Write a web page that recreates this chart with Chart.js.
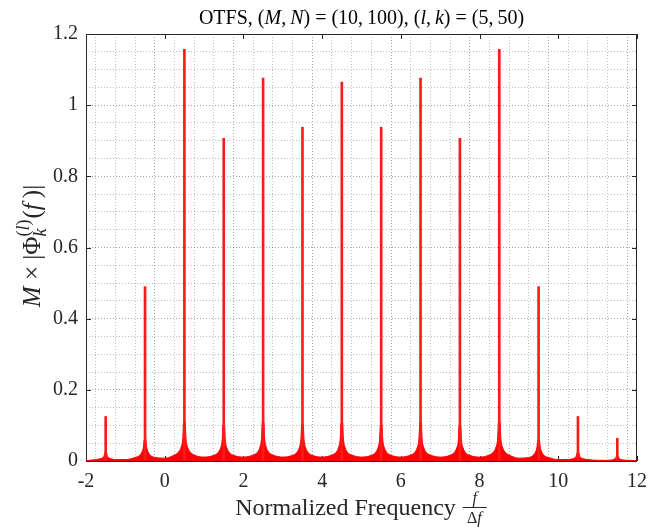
<!DOCTYPE html>
<html>
<head>
<meta charset="utf-8">
<script src="https://cdn.jsdelivr.net/npm/chart.js@4"></script>
<style>
html, body { margin: 0; padding: 0; background: #fff; }
#wrap { width: 661px; height: 527px; }
</style>
</head>
<body>
<div id="wrap"><canvas id="spectrum_chart"></canvas></div>
<script>
// peaks of the spectrum (x in units of delta f)
const peak_freq = [-1.5, -0.5, 0.5, 1.5, 2.5, 3.5, 4.5, 5.5, 6.5, 7.5, 8.5, 9.5, 10.5, 11.5];
const peak_height = [0.125, 0.49, 1.157, 0.907, 1.076, 0.938, 1.065, 0.938, 1.076, 0.907, 1.157, 0.49, 0.125, 0.064];

// skirt around each peak, read at these distances from the peak centre
const skirt_offset = [0.02, 0.04, 0.08, 0.15, 0.25];
const skirt_level = [
    [0.024, 0.015, 0.009, 0.006, 0.004],
    [0.060, 0.040, 0.025, 0.015, 0.010],
    [0.110, 0.065, 0.040, 0.025, 0.017],
    [0.100, 0.060, 0.037, 0.023, 0.016],
    [0.108, 0.064, 0.039, 0.024, 0.017],
    [0.102, 0.061, 0.038, 0.023, 0.016],
    [0.107, 0.064, 0.039, 0.024, 0.017],
    [0.102, 0.061, 0.038, 0.023, 0.016],
    [0.108, 0.064, 0.039, 0.024, 0.017],
    [0.100, 0.060, 0.037, 0.023, 0.016],
    [0.110, 0.065, 0.040, 0.025, 0.017],
    [0.060, 0.040, 0.025, 0.015, 0.010],
    [0.024, 0.015, 0.009, 0.006, 0.004],
    [0.014, 0.009, 0.005, 0.003, 0.002]
];

// level of the floor half way between peaks
const floor_freq = [-2, -1, 0, 1, 2, 3, 4, 5, 6, 7, 8, 9, 10, 11, 12];
const floor_level = [0.001, 0.004, 0.008, 0.011, 0.011, 0.011, 0.011, 0.011, 0.011, 0.011, 0.011, 0.008, 0.004, 0.002, 0.001];

const x_labels = [-2, 0, 2, 4, 6, 8, 10, 12];
const y_labels = [0, 0.2, 0.4, 0.6, 0.8, 1, 1.2];

const serif = "'Liberation Serif', 'Times New Roman', serif";

const skirt_points = floor_freq.map((f, i) => ({ x: f, y: floor_level[i] }));
peak_freq.forEach((c, i) => {
    skirt_offset.forEach((d, j) => {
        skirt_points.push({ x: c - d, y: skirt_level[i][j] });
        skirt_points.push({ x: c + d, y: skirt_level[i][j] });
    });
});
skirt_points.sort((a, b) => a.x - b.x);

const peak_points = peak_freq.map((f, i) => ({ x: f, y: peak_height[i] }));

const is_major = (v, step) => Math.abs(v / step - Math.round(v / step)) < 1e-6;
const grid_colour = (step) => (c) => (c.tick && is_major(c.tick.value, step)) ? "rgba(0,0,0,0.35)" : "rgba(0,0,0,0.25)";

// draws a list of text runs, returns the width
function run_text(ctx, parts, x, y, size, draw) {
    let w = 0;
    parts.forEach(p => {
        if (p.sup || p.sub) {
            const s = Math.round(size * 0.7);
            const ws = run_text(ctx, p.sup, x + w, y - size * 0.45, s, draw);
            const wb = run_text(ctx, p.sub, x + w, y + size * 0.25, s, draw);
            w += Math.max(ws, wb) + 1;
            return;
        }
        ctx.font = (p.f === "i" ? "italic " : "") + size + "px " + serif;
        if (draw) ctx.fillText(p.t, x + w, y);
        w += ctx.measureText(p.t).width;
    });
    return w;
}

function centred(ctx, parts, cx, y, size) {
    const w = run_text(ctx, parts, 0, 0, size, false);
    run_text(ctx, parts, cx - w / 2, y, size, true);
}

const thin = "\u2009";
const title_parts = [
    { t: "OTFS, (", f: "n" }, { t: "M", f: "i" }, { t: "," + thin, f: "n" }, { t: "N", f: "i" },
    { t: ") = (10," + thin + "100), (", f: "n" }, { t: "l", f: "i" }, { t: "," + thin, f: "n" }, { t: "k", f: "i" },
    { t: ") = (5," + thin + "50)", f: "n" }
];
const ylabel_parts = [
    { t: "M", f: "i" }, { t: " × |Φ", f: "n" },
    { sup: [{ t: "(", f: "n" }, { t: "l", f: "i" }, { t: ")", f: "n" }], sub: [{ t: "k", f: "i" }] },
    { t: "(", f: "n" }, { t: "f", f: "i" }, { t: thin + ")|", f: "n" }
];

const matlab_axes = {
    id: "matlab_axes",
    beforeDatasetsDraw(chart) {
        const ctx = chart.ctx;
        const a = chart.chartArea;
        ctx.save();
        ctx.strokeStyle = "#262626";
        ctx.lineWidth = 1;
        ctx.strokeRect(a.left + 0.5, a.top + 0.5, a.right - a.left - 1, a.bottom - a.top);
        const xs = chart.scales.x, ys = chart.scales.y;
        ctx.beginPath();
        x_labels.forEach(v => {
            const px = Math.round(xs.getPixelForValue(v)) + 0.5;
            ctx.moveTo(px, a.bottom); ctx.lineTo(px, a.bottom - 5);
            ctx.moveTo(px, a.top); ctx.lineTo(px, a.top + 5);
        });
        y_labels.forEach(v => {
            const py = Math.round(ys.getPixelForValue(v)) + 0.5;
            ctx.moveTo(a.left, py); ctx.lineTo(a.left + 5, py);
            ctx.moveTo(a.right, py); ctx.lineTo(a.right - 5, py);
        });
        ctx.stroke();
        ctx.restore();
    },
    afterDraw(chart) {
        const ctx = chart.ctx;
        const a = chart.chartArea;
        const cx = (a.left + a.right) / 2;
        ctx.save();
        ctx.fillStyle = "#000";
        ctx.textBaseline = "alphabetic";
        ctx.textAlign = "left";
        centred(ctx, title_parts, cx, 24, 20);

        // x label with the f / delta f fraction
        ctx.fillStyle = "#262626";
        ctx.font = "24px " + serif;
        const main = "Normalized Frequency ";
        const mw = ctx.measureText(main).width;
        const fw = 26;
        let x0 = cx - (mw + fw) / 2;
        ctx.fillText(main, x0, 515);
        const fx = x0 + mw + fw / 2;
        ctx.font = "italic 16px " + serif;
        ctx.textAlign = "center";
        ctx.fillText("f", fx, 503);
        ctx.font = "16px " + serif;
        const dw = ctx.measureText("Δ").width;
        ctx.textAlign = "left";
        const denw = dw + ctx.measureText("f").width;
        ctx.fillText("Δ", fx - denw / 2, 523);
        ctx.font = "italic 16px " + serif;
        ctx.fillText("f", fx - denw / 2 + dw, 523);
        ctx.fillRect(fx - fw / 2 + 1, 507, fw - 2, 1);

        // y label, rotated
        ctx.translate(40, 246);
        ctx.rotate(-Math.PI / 2);
        centred(ctx, ylabel_parts, 0, 0, 25);
        ctx.restore();
    }
};

const ctx = document.getElementById("spectrum_chart");
const chart = new Chart(ctx, {
    type: "bar",
    data: {
        datasets: [{
            type: "bar",
            label: "peaks",
            data: peak_points,
            backgroundColor: "#ff1a1a",
            barThickness: 2,
            grouped: false,
            order: 0
        }, {
            type: "line",
            label: "spectrum",
            data: skirt_points,
            borderColor: "#ff0000",
            borderWidth: 1,
            backgroundColor: "#ff0000",
            fill: "origin",
            pointRadius: 0,
            cubicInterpolationMode: "monotone",
            order: 1
        }]
    },
    options: {
        responsive: true,
        maintainAspectRatio: false,
        animation: false,
        layout: { padding: { left: 0, right: 24, top: 34, bottom: 0 } },
        plugins: {
            legend: { display: false },
            tooltip: { enabled: false }
        },
        scales: {
            x: {
                type: "linear",
                min: -2,
                max: 12,
                offset: false,
                grid: {
                    drawTicks: false,
                    color: grid_colour(2),
                    lineWidth: 1
                },
                border: { display: false, dash: [1, 2] },
                ticks: {
                    stepSize: 0.5,
                    autoSkip: false,
                    maxRotation: 0,
                    padding: 9,
                    color: "#262626",
                    font: { family: serif, size: 20 },
                    callback: (v) => is_major(v, 2) ? String(v) : ""
                },
                afterFit: (s) => { s.height = 66; }
            },
            y: {
                min: 0,
                max: 1.2,
                grid: {
                    drawTicks: false,
                    color: grid_colour(0.2),
                    lineWidth: 1
                },
                border: { display: false, dash: [1, 2] },
                ticks: {
                    stepSize: 0.05,
                    autoSkip: false,
                    padding: 8,
                    color: "#262626",
                    font: { family: serif, size: 20 },
                    callback: (v) => is_major(v, 0.2) ? String(+v.toFixed(1)) : ""
                },
                afterFit: (s) => { s.width = 86; }
            }
        }
    },
    plugins: [matlab_axes]
});
</script>
</body>
</html>
